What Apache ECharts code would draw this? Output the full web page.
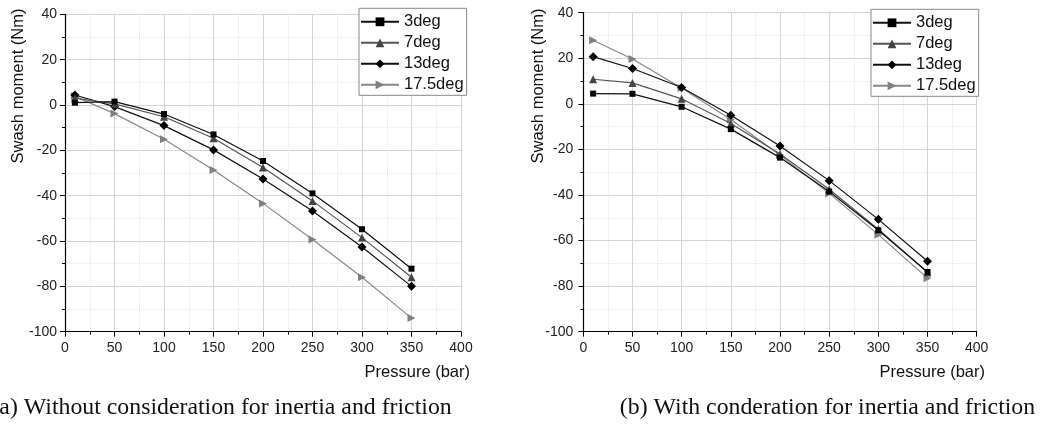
<!DOCTYPE html>
<html>
<head>
<meta charset="utf-8">
<script src="https://cdn.jsdelivr.net/npm/echarts@6/dist/echarts.min.js"></script>
<style>
html,body{margin:0;padding:0;background:#fff;}
#c{width:1047px;height:425px;}
</style>
</head>
<body>
<div id="c"></div>
<script>
// ---- data ----
var pressure = [10, 50, 100, 150, 200, 250, 300, 350];
var seriesNames = ['3deg', '7deg', '13deg', '17.5deg'];
// (a) without inertia and friction
var a3 = [1.0, 1.5, -4.0, -13.0, -24.7, -39.0, -54.8, -72.2];
var a7 = [3.0, 0.5, -5.2, -14.7, -27.6, -42.3, -58.5, -76.0];
var a13 = [4.4, -0.7, -9.1, -19.8, -32.6, -46.8, -62.6, -80.0];
var a175 = [3.8, -3.8, -15.1, -28.7, -43.4, -59.3, -76.0, -94.0];
// (b) with inertia and friction
var b3 = [4.5, 4.4, -1.3, -11.1, -23.6, -38.5, -55.5, -73.8];
var b7 = [10.8, 9.2, 2.2, -8.6, -22.0, -37.5, -55.0, -74.0];
var b13 = [20.7, 15.5, 7.2, -5.0, -18.5, -33.7, -50.7, -69.1];
var b175 = [27.9, 19.7, 7.0, -6.9, -22.5, -39.3, -57.4, -76.5];
var yTitle = 'Swash moment (Nm)';
var xTitle = 'Pressure (bar)';
var captionA = '(a) Without consideration for inertia and friction';
var captionB = '(b) With conderation for inertia and friction';

// ---- styles ----
var FONT = 'Liberation Sans, Arial, sans-serif';
var styles = [
  {symbol: 'rect', size: 6, line: '#111', mark: '#000'},
  {symbol: 'triangle', size: 8, line: '#555', mark: '#444'},
  {symbol: 'diamond', size: 9, line: '#111', mark: '#000'},
  {symbol: 'path://M0,0 L10,5 L0,10 Z', size: 8, line: '#888', mark: '#808080'}
];

function pairs(ys) { return pressure.map(function (x, i) { return [x, ys[i]]; }); }

function mkSeries(vals, idx) {
  return vals.map(function (ys, k) {
    var s = styles[k];
    return {
      name: seriesNames[k], type: 'line', xAxisIndex: idx, yAxisIndex: idx,
      data: pairs(ys), symbol: s.symbol, symbolSize: s.size,
      lineStyle: {color: s.line, width: 1.2},
      itemStyle: {color: s.mark},
      z: 10 - k
    };
  });
}

function mkX(idx) {
  return {
    gridIndex: idx, type: 'value', min: 0, max: 400, interval: 50,
    axisLine: {onZero: false, lineStyle: {color: '#000', width: 1.2}},
    axisTick: {show: true, length: 5, lineStyle: {color: '#000'}},
    minorTick: {show: true, splitNumber: 2, length: 3, lineStyle: {color: '#000'}},
    axisLabel: {color: '#222', fontSize: 14, fontFamily: FONT, margin: 9},
    splitLine: {show: true, lineStyle: {color: '#d4d4d4', width: 1}},
    minorSplitLine: {show: true, lineStyle: {color: '#e4e4e4', type: 'dotted', width: 1}}
  };
}
function mkY(idx, margin) {
  return {
    gridIndex: idx, type: 'value', min: -100, max: 40, interval: 20,
    axisLine: {show: true, onZero: false, lineStyle: {color: '#000', width: 1.2}},
    axisTick: {show: true, length: 5, lineStyle: {color: '#000'}},
    minorTick: {show: true, splitNumber: 2, length: 3, lineStyle: {color: '#000'}},
    axisLabel: {color: '#222', fontSize: 14, fontFamily: FONT, margin: margin},
    splitLine: {show: true, lineStyle: {color: '#d4d4d4', width: 1}},
    minorSplitLine: {show: true, lineStyle: {color: '#e4e4e4', type: 'dotted', width: 1}}
  };
}
function mkLegend(left, top) {
  return {
    data: seriesNames, left: left, top: top, orient: 'vertical',
    itemWidth: 38, itemHeight: 11, itemGap: 4,
    padding: [5, 3, 2, 1],
    borderColor: '#888', borderWidth: 1, backgroundColor: '#fff',
    textStyle: {fontSize: 16.5, fontFamily: FONT, color: '#111', lineHeight: 16},
    selectedMode: false
  };
}
function txt(x, y, text, opts) {
  return {
    type: 'text', x: x, y: y, rotation: opts.rot || 0, z: 100,
    style: {
      text: text, fill: '#111', font: opts.font,
      textAlign: opts.align || 'center', textVerticalAlign: 'middle'
    }
  };
}

var chart = echarts.init(document.getElementById('c'), null, {renderer: 'canvas'});
chart.setOption({
  animation: false,
  backgroundColor: '#fff',
  grid: [
    {left: 65, top: 14.3, width: 396, height: 317.4},
    {left: 583.3, top: 12.7, width: 393.4, height: 319}
  ],
  xAxis: [mkX(0), mkX(1)],
  yAxis: [mkY(0, 8), mkY(1, 10)],
  legend: [mkLegend(359, 8.3), mkLegend(871, 9.3)],
  series: mkSeries([a3, a7, a13, a175], 0).concat(mkSeries([b3, b7, b13, b175], 1)),
  graphic: [
    txt(18, 86, yTitle, {rot: Math.PI / 2, font: '16.5px ' + FONT}),
    txt(538, 86, yTitle, {rot: Math.PI / 2, font: '16.5px ' + FONT}),
    txt(470, 372.7, xTitle, {align: 'right', font: '16.5px ' + FONT}),
    txt(985, 372.7, xTitle, {align: 'right', font: '16.5px ' + FONT}),
    txt(451.7, 408, captionA, {align: 'right', font: '23.8px Liberation Serif, Times New Roman, serif'}),
    txt(827.5, 408, captionB, {align: 'center', font: '23.8px Liberation Serif, Times New Roman, serif'})
  ]
});
</script>
</body>
</html>
